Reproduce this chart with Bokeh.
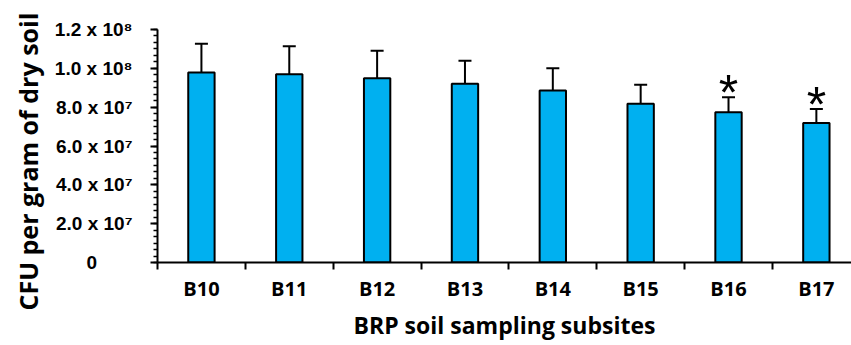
from bokeh.plotting import figure
from bokeh.models import Range1d, FixedTicker, ColumnDataSource, Whisker, TeeHead, Title
from bokeh.core.properties import value
from bokeh.embed import file_html
from bokeh.resources import INLINE

# ---- data ----
subsites = ["B10", "B11", "B12", "B13", "B14", "B15", "B16", "B17"]
cfu_mean = [9.79e7, 9.70e7, 9.49e7, 9.20e7, 8.86e7, 8.17e7, 7.74e7, 7.19e7]
cfu_sd = [1.47e7, 1.44e7, 1.41e7, 1.19e7, 1.15e7, 0.98e7, 0.77e7, 0.71e7]
significance = ["", "", "", "", "", "", "*", "*"]

y_tick_values = [0, 2e7, 4e7, 6e7, 8e7, 1.0e8, 1.2e8]
y_tick_labels = ["0", "2.0 x 10\u2077", "4.0 x 10\u2077", "6.0 x 10\u2077",
                 "8.0 x 10\u2077", "1.0 x 10\u2078", "1.2 x 10\u2078"]
y_minor_per_major = 6

x_title = "BRP soil sampling subsites"
y_title = "CFU per gram of dry soil"

# ---- derived ----
xs = [i + 0.5 for i in range(len(subsites))]
upper = [m + s for m, s in zip(cfu_mean, cfu_sd)]
src = ColumnDataSource(dict(x=xs, name=subsites, mean=cfu_mean, upper=upper, sig=significance))

p = figure(width=851, height=345, x_range=Range1d(0, 7.9), y_range=Range1d(0, 1.2e8),
           output_backend="svg", toolbar_location=None,
           min_border_left=157, min_border_right=0, min_border_top=29, min_border_bottom=83)
p.outline_line_color = None
p.xgrid.visible = False
p.ygrid.visible = False

p.vbar(x="x", top="mean", bottom=0, width=0.30, source=src,
       fill_color="#00B0F0", line_color="black", line_width=2)

p.add_layout(Whisker(base="x", lower="mean", upper="upper", source=src,
                     line_color="black", line_width=2,
                     upper_head=TeeHead(size=13, line_color="black", line_width=2),
                     lower_head=None))

p.text(x="x", y="upper", text="sig", source=src, text_font=value("Liberation Sans"),
       text_font_size="50px", text_align="center", text_baseline="alphabetic",
       y_offset=-4, text_color="black")

# ---- x axis: labels at centres, tick marks at category boundaries ----
xa = p.xaxis[0]
xa.ticker = FixedTicker(ticks=xs, minor_ticks=list(range(len(subsites) + 1)))
xa.major_label_overrides = {x: n for x, n in zip(xs, subsites)}
xa.major_tick_out = 0
xa.major_tick_in = 0
xa.minor_tick_out = 7
xa.minor_tick_in = 0
xa.minor_tick_line_width = 2
xa.minor_tick_line_color = "black"
xa.axis_line_width = 2
xa.axis_line_color = "black"
xa.major_label_text_font = "Open Sans"
xa.major_label_text_font_style = "bold"
xa.major_label_text_font_size = "20px"
xa.major_label_text_color = "black"
xa.major_label_standoff = 5
xa.axis_label = x_title
xa.axis_label_text_font = "Open Sans"
xa.axis_label_text_font_style = "bold"
xa.axis_label_text_font_size = "23px"
xa.axis_label_text_color = "black"
xa.axis_label_standoff = 4

# ---- y axis ----
ya = p.yaxis[0]
step = (y_tick_values[1] - y_tick_values[0]) / y_minor_per_major
n_minor = int(round(y_tick_values[-1] / step))
ya.ticker = FixedTicker(ticks=y_tick_values, minor_ticks=[k * step for k in range(n_minor + 1)])
# the reference centres its tick labels: pad the short "0" so it sits under the others' centre
pad = "\u2007\u2007\u2007\u2009"
ya.major_label_overrides = {v: (t if " x " in t else t + pad) for v, t in zip(y_tick_values, y_tick_labels)}
ya.major_tick_out = 7
ya.major_tick_in = 0
ya.minor_tick_out = 4
ya.minor_tick_in = 0
ya.major_tick_line_width = 2
ya.minor_tick_line_width = 1.5
ya.axis_line_width = 2
ya.axis_line_color = "black"
ya.major_label_text_font = "Liberation Sans"
ya.major_label_text_font_style = "bold"
ya.major_label_text_font_size = "19px"
ya.major_label_text_color = "black"
ya.major_label_standoff = 18

p.add_layout(Title(text=y_title, align="left", offset=-48, standoff=14, vertical_align="bottom",
                   text_font="Open Sans", text_font_style="bold", text_font_size="25px",
                   text_color="black"), "left")

open("out.html", "w").write(file_html(p, INLINE))
